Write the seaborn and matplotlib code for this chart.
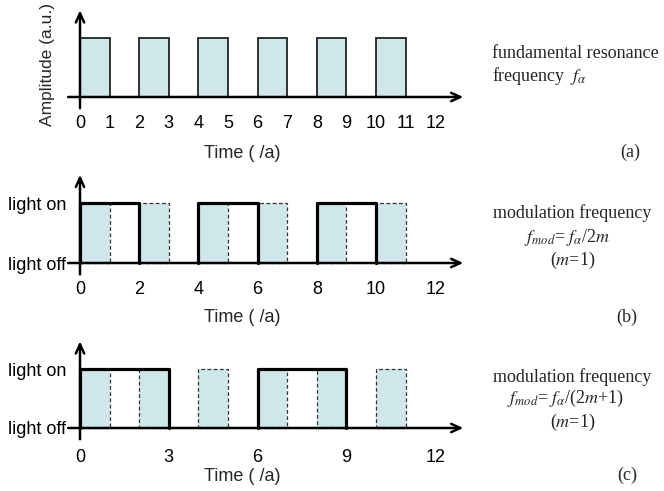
import matplotlib
matplotlib.use("Agg")
import matplotlib.pyplot as plt
import seaborn as sns
import numpy as np
import pandas as pd

# ---------------- data ----------------
pulse_starts = [0, 2, 4, 6, 8, 10]      # fundamental pulses (units of a)
pulse_width = 1
pulse_amp = 1

mod_b_starts = [0, 4, 8]                 # modulation "light on" windows, panel (b)
mod_b_ends = [2, 6, 10]
mod_c_starts = [0, 6]                    # modulation "light on" windows, panel (c)
mod_c_ends = [3, 9]

ticks_a = [0, 1, 2, 3, 4, 5, 6, 7, 8, 9, 10, 11, 12]
ticks_b = [0, 2, 4, 6, 8, 10, 12]
ticks_c = [0, 3, 6, 9, 12]
ylabels_bc = ["light off", "light on"]

# ---------------- style ----------------
sns.set_theme(style="white")
plt.rcParams["font.family"] = ["Liberation Sans", "DejaVu Sans"]
plt.rcParams["mathtext.fontset"] = "stix"

FILL = "#cfe7ea"
W, H = 664, 491
fig = plt.figure(figsize=(W / 100, H / 100), dpi=100)

UNIT = 29.6      # px per time unit
X0 = 80          # px of t=0
XMIN, XMAX = -1.2, 13.2


def make_axes(base_px, unit_y, xpad):
    ymin, ymax = -0.3, 1.55
    left = (X0 + XMIN * UNIT) / W
    width = (XMAX - XMIN) * UNIT / W
    bottom_px = base_px - ymin * unit_y
    top_px = base_px - ymax * unit_y
    ax = fig.add_axes([left, 1 - bottom_px / H, width, (bottom_px - top_px) / H])
    ax.set_xlim(XMIN, XMAX)
    ax.set_ylim(ymin, ymax)
    ax.patch.set_alpha(0)
    for s in ["top", "right"]:
        ax.spines[s].set_visible(False)
    ax.spines["bottom"].set_position(("data", 0))
    ax.spines["left"].set_position(("data", 0))
    ax.spines["bottom"].set_color("none")
    ax.spines["left"].set_color("none")
    ax.tick_params(axis="both", length=0, labelsize=13, colors="black")
    ax.tick_params(axis="x", pad=xpad)
    ax.tick_params(axis="y", pad=10)
    return ax


def draw_axes_arrows(ax):
    ap = dict(arrowstyle="->,head_length=0.55,head_width=0.25", lw=1.8,
              color="black", shrinkA=0, shrinkB=0)
    ax.annotate("", xy=(12.95, 0), xytext=(-0.4, 0), arrowprops=ap, zorder=6)
    ax.annotate("", xy=(0, 1.47), xytext=(0, -0.19), arrowprops=ap, zorder=6)


def draw_pulses(ax, linestyle, lw, color):
    ax.bar(pulse_starts, [pulse_amp] * len(pulse_starts), width=pulse_width,
           align="edge", color=FILL, linewidth=0, zorder=1)
    ax.bar(pulse_starts, [pulse_amp] * len(pulse_starts), width=pulse_width,
           align="edge", fill=False, edgecolor=color, linewidth=lw,
           linestyle=linestyle, zorder=2)


def draw_envelope(ax, starts, ends):
    for s, e in zip(starts, ends):
        df = pd.DataFrame({"t": [s, s, e, e], "v": [0, pulse_amp, pulse_amp, 0]})
        sns.lineplot(data=df, x="t", y="v", ax=ax, estimator=None, sort=False,
                     color="black", linewidth=2.3, zorder=4)


# ---------- panel (a) ----------
ax_a = make_axes(97, 59, 13)
draw_pulses(ax_a, "-", 1.3, "#222222")
draw_axes_arrows(ax_a)
ax_a.set_xticks(ticks_a)
ax_a.set_xticklabels([str(t) for t in ticks_a])
ax_a.set_yticks([])
ax_a.set_xlabel("")
ax_a.set_ylabel("")
ax_a.text(5.47, -0.95, "Time ( /a)", ha="center", va="center", fontsize=13)
ax_a.text(-1.11, 0.55, "Amplitude (a.u.)", ha="center", va="center",
          rotation=90, fontsize=12.5)

# ---------- panel (b) ----------
ax_b = make_axes(263, 60, 13)
draw_pulses(ax_b, (0, (3, 2)), 0.9, "#333333")
draw_envelope(ax_b, mod_b_starts, mod_b_ends)
draw_axes_arrows(ax_b)
ax_b.set_xticks(ticks_b)
ax_b.set_xticklabels([str(t) for t in ticks_b])
ax_b.set_yticks([0, 1])
ax_b.set_yticklabels(ylabels_bc)
ax_b.set_xlabel("")
ax_b.set_ylabel("")
ax_b.text(5.47, -0.9, "Time ( /a)", ha="center", va="center", fontsize=13)

# ---------- panel (c) ----------
ax_c = make_axes(428, 59, 15)
draw_pulses(ax_c, (0, (3, 2)), 0.9, "#333333")
draw_envelope(ax_c, mod_c_starts, mod_c_ends)
draw_axes_arrows(ax_c)
ax_c.set_xticks(ticks_c)
ax_c.set_xticklabels([str(t) for t in ticks_c])
ax_c.set_yticks([0, 1])
ax_c.set_yticklabels(ylabels_bc)
ax_c.set_xlabel("")
ax_c.set_ylabel("")
ax_c.text(5.47, -0.83, "Time ( /a)", ha="center", va="center", fontsize=13)

# ---------- right-hand annotations ----------
serif = ["Liberation Serif", "DejaVu Serif"]


def ftext(xp, yp, s, ha="center"):
    fig.text(xp / W, 1 - yp / H, s, ha=ha, va="center", fontsize=13, family=serif)


ftext(492, 54, "fundamental resonance", ha="left")
ftext(492, 76, r"frequency  $f_{\alpha}$", ha="left")
ftext(630, 152, "(a)")

ftext(572, 213, "modulation frequency")
ftext(567, 237, r"$f_{mod}$= $f_{\alpha}$/2$m$")
ftext(573, 260, r"($m$=1)")
ftext(627, 317, "(b)")

ftext(572, 377, "modulation frequency")
ftext(565, 398, r"$f_{mod}$= $f_{\alpha}$/(2$m$+1)")
ftext(573, 422, r"($m$=1)")
ftext(627, 475, "(c)")

fig.savefig("out.png", dpi=100)
